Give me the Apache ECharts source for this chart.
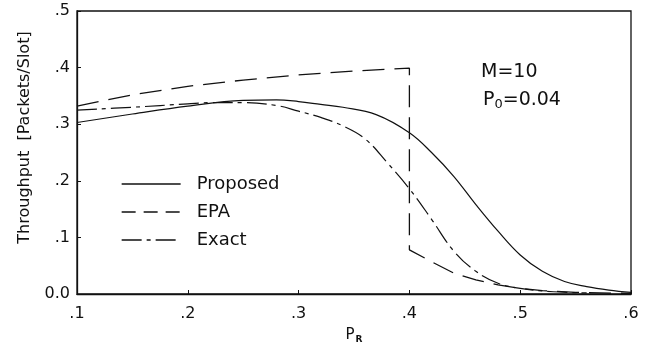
<!DOCTYPE html>
<html><head><meta charset="utf-8">
<script src="https://cdn.jsdelivr.net/npm/echarts@6/dist/echarts.min.js"></script>
<style>html,body{margin:0;padding:0;background:#fff}#c{width:650px;height:349px}</style>
</head><body><div id="c"></div>
<script>
const seriesNames = ['Proposed', 'EPA', 'Exact'];
const proposedX = [0.10,0.15,0.20,0.25,0.28,0.30,0.32,0.34,0.37,0.40,0.42,0.44,0.46,0.48,0.50,0.52,0.54,0.56,0.58,0.60];
const proposedY = [0.303,0.318,0.332,0.342,0.343,0.340,0.335,0.330,0.317,0.285,0.250,0.208,0.158,0.111,0.069,0.040,0.022,0.013,0.007,0.003];
const epaX = [0.10,0.15,0.20,0.25,0.30,0.35,0.40,0.40,0.42,0.44,0.46,0.48,0.50,0.52,0.55,0.60];
const epaY = [0.332,0.352,0.367,0.378,0.387,0.394,0.399,0.078,0.057,0.037,0.025,0.016,0.010,0.006,0.003,0.001];
const exactX = [0.10,0.15,0.20,0.22,0.25,0.28,0.30,0.32,0.34,0.36,0.38,0.40,0.42,0.44,0.46,0.48,0.50,0.53,0.56];
const exactY = [0.325,0.330,0.336,0.338,0.338,0.333,0.323,0.312,0.297,0.274,0.232,0.186,0.132,0.076,0.040,0.019,0.010,0.004,0.002];
const xTickValues = [0.1,0.2,0.3,0.4,0.5,0.6];
const xTickLabels = ['.1','.2','.3','.4','.5','.6'];
const yTickValues = [0,0.1,0.2,0.3,0.4,0.5];
const yTickLabels = ['0.0','.1','.2','.3','.4','.5'];
const annotM = 'M=10';
const annotP = '0.04';

const zip = (xs, ys) => xs.map((x, i) => [x, ys[i]]);
const lab = (vals, labs) => v => { const i = vals.findIndex(t => Math.abs(t - v) < 1e-6); return i >= 0 ? labs[i] : ''; };
const FONT = 'DejaVu Sans';
const ink = '#111';
const solidType = 'solid';
const epaDash = [22, 10];
const exactDash = [20, 5, 4, 5];

const chart = echarts.init(document.getElementById('c'), null, {renderer: 'canvas'});
chart.setOption({
  backgroundColor: '#fff',
  animation: false,
  grid: {left: 77, right: 19, top: 11, bottom: 49, show: true, borderColor: ink, borderWidth: 1.3, backgroundColor: 'transparent'},
  xAxis: {
    type: 'value', min: 0.1, max: 0.6, interval: 0.1,
    axisLine: {show: true, lineStyle: {color: ink, width: 1.3}},
    axisTick: {show: true, inside: true, length: 4, lineStyle: {color: ink}},
    splitLine: {show: false},
    axisLabel: {formatter: lab(xTickValues, xTickLabels), color: ink, fontFamily: FONT, fontSize: 16, margin: 12},
    name: '{p|P}{s|R}', nameLocation: 'middle', nameGap: 33,
    nameTextStyle: {rich: {p: {fontFamily: FONT, fontSize: 15, color: ink}, s: {fontFamily: FONT, fontSize: 9, color: ink, fontWeight: 'bold', padding: [8,0,0,1]}}}
  },
  yAxis: {
    type: 'value', min: 0, max: 0.5, interval: 0.1,
    axisLine: {show: true, lineStyle: {color: ink, width: 1.3}},
    axisTick: {show: true, inside: true, length: 4, lineStyle: {color: ink}},
    splitLine: {show: false},
    axisLabel: {formatter: lab(yTickValues, yTickLabels), color: ink, fontFamily: FONT, fontSize: 16, margin: 7},
    name: 'Throughput  [Packets/Slot]', nameLocation: 'middle', nameGap: 44, nameRotate: 90,
    nameTextStyle: {fontFamily: FONT, fontSize: 16, color: ink, padding: [0,0,0,30]}
  },
  legend: {
    orient: 'vertical', left: 116, top: 170, itemWidth: 59, itemHeight: 14, itemGap: 10,
    itemStyle: {opacity: 0},
    textStyle: {fontFamily: FONT, fontSize: 18, color: ink, padding: [0,0,0,11]},
    data: [
      {name: seriesNames[0], lineStyle: {type: solidType, width: 1.3, color: ink}},
      {name: seriesNames[1], lineStyle: {type: [14, 8], width: 1.3, color: ink}},
      {name: seriesNames[2], lineStyle: {type: exactDash, width: 1.3, color: ink}}
    ]
  },
  graphic: [
    {type: 'text', left: 481, top: 63, style: {text: annotM, font: '19px "DejaVu Sans"', fill: ink}},
    {type: 'text', left: 483, top: 91, style: {text: '{p|P}{s|0}{p|=' + annotP + '}', rich: {p: {fontFamily: FONT, fontSize: 19, fill: ink}, s: {fontFamily: FONT, fontSize: 13, fill: ink, padding: [8,0,0,0]}}}}
  ],
  series: [
    {name: seriesNames[0], type: 'line', data: zip(proposedX, proposedY), smooth: 0.4, symbol: 'none', lineStyle: {color: ink, width: 1.2, type: solidType}, itemStyle: {color: ink}},
    {name: seriesNames[1], type: 'line', data: zip(epaX, epaY), smooth: false, symbol: 'none', lineStyle: {color: ink, width: 1.3, type: epaDash}, itemStyle: {color: ink}},
    {name: seriesNames[2], type: 'line', data: zip(exactX, exactY), smooth: 0.4, symbol: 'none', lineStyle: {color: ink, width: 1.2, type: exactDash}, itemStyle: {color: ink}}
  ]
});
</script></body></html>
